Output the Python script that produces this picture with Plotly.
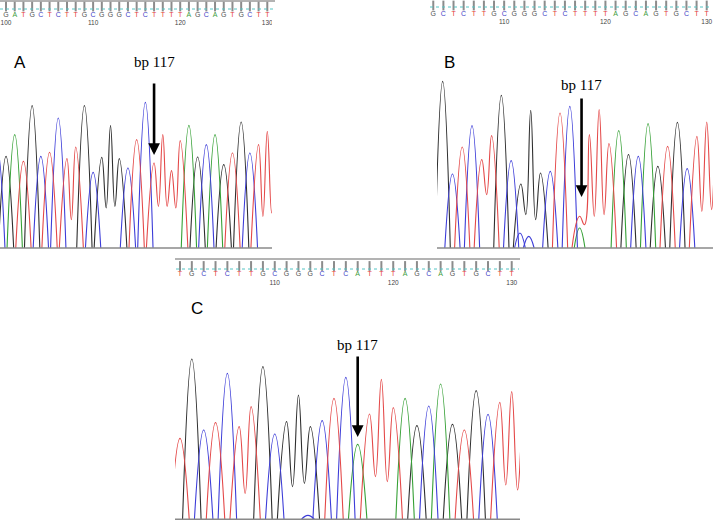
import plotly.graph_objects as go

W, H = 714, 520

# =========================
# Cores por base
# =========================
TRACE_COLORS = {"A": "#35a035", "C": "#3c3cd8", "G": "#2e2e2e", "T": "#e44848"}
CALL_COLORS = {"A": "#3c9c3c", "C": "#4040c8", "G": "#505050", "T": "#e6403c"}

# =========================
# Painel A
# =========================
A_calls = "GATGCTCTTGCGGGCTCTTTTAGCAGTGCTT"
A_first_call = 100
A_numbers = [100, 110, 120, 130]
A_peak_bases = "CGATGCTCTTGCGGGCTCTTTTAGCAGTGCTTT"
A_first_peak = 99
A_heights = [300, 275, 340, 260, 427, 275, 287, 390, 268, 303, 427, 227, 272, 367,
             268, 240, 325, 437, 255, 340, 232, 322, 368, 273, 310, 340, 250, 285,
             378, 285, 310, 350, 320]
A_valleys = {107: 85, 111: 120, 112: 125, 117: 125, 118: 125, 119: 120, 129: 95, 130: 105}
A_extra_pos, A_extra_bases, A_extra_h = [], "", []

# =========================
# Painel B
# =========================
B_calls = "GCTCTTGCGGGCTCTTTTAGCAGTGCTT"
B_first_call = 103
B_numbers = [110, 120, 130]
B_peak_bases = "GCTCTTGCGGGCTCTTTTAGCAGTGCTTT"
B_first_peak = 103
B_heights = [500, 222, 303, 367, 265, 337, 458, 262, 192, 413, 225, 230, 405, 425,
             95, 340, 415, 313, 352, 280, 275, 373, 245, 305, 377, 238, 335, 378, 330]
B_valleys = {107: 160, 111: 100, 112: 85, 117: 70, 118: 95, 119: 100, 129: 110, 130: 115}
B_extra_pos, B_extra_bases, B_extra_h = [110.9, 111.8, 117.0], "CCA", [45, 35, 60]

# =========================
# Painel C
# =========================
C_calls = "TGCTCTTGCGGGCTCATTTAGCAGTGCTT"
C_first_call = 102
C_numbers = [110, 120, 130]
C_peak_bases = "TGCTCTTGCGGGCTCATTTAGCAGTGCTTT"
C_first_peak = 102
C_heights = [243, 481, 268, 290, 438, 278, 338, 458, 256, 293, 373, 278, 296, 363,
             426, 225, 316, 420, 335, 363, 281, 340, 406, 285, 268, 386, 315, 351, 383, 300]
C_valleys = {107: 78, 111: 98, 112: 108, 118: 128, 119: 113, 129: 103, 130: 88}
C_extra_pos, C_extra_bases, C_extra_h = [112.8], "C", [12]

MUT_POS = 117


def peak_traces(bases, first, heights, valleys, ex_pos, ex_bases, ex_h, half, xa, ya):
    traces = []
    for b in "GACT":
        xs, ys = [], []
        i = 0
        while i < len(bases):
            if bases[i] != b:
                i += 1
                continue
            pos = first + i
            xs += [pos - half, pos]
            ys += [0, heights[i]]
            while pos in valleys and i + 1 < len(bases) and bases[i + 1] == b:
                xs += [pos + 0.5, pos + 1]
                ys += [valleys[pos], heights[i + 1]]
                i += 1
                pos += 1
            xs += [pos + half, None]
            ys += [0, None]
            i += 1
        for p, eb, h in zip(ex_pos, ex_bases, ex_h):
            if eb == b:
                xs += [p - 0.55, p, p + 0.55, None]
                ys += [0, h, 0, None]
        traces.append(go.Scatter(
            x=xs, y=ys, mode="lines", xaxis=xa, yaxis=ya,
            line=dict(color=TRACE_COLORS[b], width=1.1, shape="spline", smoothing=1.3),
            hoverinfo="skip", showlegend=False,
        ))
    return traces


def strip_traces(calls, first, numbers, xa, ya, y_tick, y_letter, y_num):
    pos = [first + i for i in range(len(calls))]
    ticks = go.Scatter(
        x=pos, y=[y_tick] * len(pos), mode="markers", xaxis=xa, yaxis=ya,
        marker=dict(symbol="line-ns", size=7, line=dict(color="#8c8c8c", width=2)),
        hoverinfo="skip", showlegend=False,
    )
    letters = go.Scatter(
        x=pos, y=[y_letter] * len(pos), mode="text", text=list(calls), xaxis=xa, yaxis=ya,
        textfont=dict(family="Liberation Sans", size=7, color=[CALL_COLORS[c] for c in calls]),
        hoverinfo="skip", showlegend=False,
    )
    nums = go.Scatter(
        x=numbers, y=[y_num] * len(numbers), mode="text", text=[str(n) for n in numbers],
        xaxis=xa, yaxis=ya, textfont=dict(family="Liberation Sans", size=6.5, color="#444444"),
        hoverinfo="skip", showlegend=False,
    )
    return [ticks, letters, nums]


fig = go.Figure()
for t in peak_traces(A_peak_bases, A_first_peak, A_heights, A_valleys,
                     A_extra_pos, A_extra_bases, A_extra_h, 0.88, "x", "y"):
    fig.add_trace(t)
for t in peak_traces(B_peak_bases, B_first_peak, B_heights, B_valleys,
                     B_extra_pos, B_extra_bases, B_extra_h, 0.78, "x2", "y2"):
    fig.add_trace(t)
for t in peak_traces(C_peak_bases, C_first_peak, C_heights, C_valleys,
                     C_extra_pos, C_extra_bases, C_extra_h, 0.78, "x3", "y3"):
    fig.add_trace(t)

for t in strip_traces(A_calls, A_first_call, A_numbers, "x", "y4", 6.5, 15, 23):
    fig.add_trace(t)
for t in strip_traces(B_calls, B_first_call, B_numbers, "x4", "y5", 5.5, 14, 22):
    fig.add_trace(t)
for t in strip_traces(C_calls, C_first_call, C_numbers, "x3", "y6", 9, 17, 26):
    fig.add_trace(t)


def px(v):
    return v / W


def py(v):
    return 1 - v / H


hidden = dict(showgrid=False, zeroline=False, showticklabels=False, showline=False, ticks="")

fig.update_layout(
    xaxis=dict(domain=[0, px(272)], range=[99.31, 130.54], anchor="y", **hidden),
    yaxis=dict(domain=[py(250), py(50)], range=[-6, 594], anchor="x", **hidden),
    xaxis2=dict(domain=[px(437), px(713)], range=[102.42, 130.64], anchor="y2", **hidden),
    yaxis2=dict(domain=[py(250), py(50)], range=[-6, 594], anchor="x2", **hidden),
    xaxis3=dict(domain=[px(175), px(520)], range=[101.58, 130.70], anchor="y3", **hidden),
    yaxis3=dict(domain=[0, py(320)], range=[-2, 598], anchor="x3", **hidden),
    xaxis4=dict(domain=[px(428), 1], range=[102.48, 130.72], anchor="y5", **hidden),
    yaxis4=dict(domain=[py(30), 1], range=[30, 0], anchor="x", **hidden),
    yaxis5=dict(domain=[py(30), 1], range=[30, 0], anchor="x4", **hidden),
    yaxis6=dict(domain=[py(287), py(257)], range=[30, 0], anchor="x3", **hidden),
    width=W, height=H,
    margin=dict(l=0, r=0, t=0, b=0),
    paper_bgcolor="white", plot_bgcolor="white",
    showlegend=False,
)

# linhas de base e faixas da sequência
for xr, yr in [("x domain", "y"), ("x2 domain", "y2"), ("x3 domain", "y3")]:
    fig.add_shape(type="line", xref=xr, yref=yr, x0=0, x1=1, y0=0, y1=0,
                  line=dict(color="#8a8a8a", width=1.5))
fig.add_shape(type="line", xref="paper", yref="y4", x0=0, x1=px(275), y0=1, y1=1,
              line=dict(color="#9a9a9a", width=1.5))
fig.add_shape(type="line", xref="paper", yref="y6", x0=px(175), x1=px(520), y0=2, y1=2,
              line=dict(color="#9a9a9a", width=1.5))
for x0, x1, yr, yv in [(0, 273, "y4", 9), (430, 712, "y5", 7), (176, 519, "y6", 12)]:
    fig.add_shape(type="line", xref="paper", yref=yr, x0=px(x0), x1=px(x1), y0=yv, y1=yv,
                  line=dict(color="#55c4c4", width=1, dash="dot"))

# rótulos dos painéis
for lab, x, y in [("A", 20, 62), ("B", 449, 62), ("C", 197, 308)]:
    fig.add_annotation(text=lab, xref="paper", yref="paper", x=px(x), y=py(y),
                       xanchor="center", yanchor="middle", showarrow=False,
                       font=dict(family="Liberation Sans", size=17, color="black"))

# setas bp 117
for xa, ya, x_off, head, tail_px, text_px in [
    ("x", "y", 0.0, 279, -73, 62),
    ("x2", "y2", 0.2, 153, -100, 85),
    ("x3", "y3", 0.0, 247, -82, 345),
]:
    fig.add_annotation(xref=xa, yref=ya, x=MUT_POS + x_off, y=head, ax=0, ay=tail_px,
                       text="", showarrow=True, arrowhead=2, arrowsize=0.9,
                       arrowwidth=2.6, arrowcolor="black", standoff=0)
    fig.add_annotation(xref=xa, yref="paper", x=MUT_POS + x_off, y=py(text_px),
                       xanchor="center", yanchor="middle",
                       text="bp 117", showarrow=False,
                       font=dict(family="Liberation Serif", size=15, color="black"))

# a página abre com margem padrão do body; zera para alinhar com 714x520
fig.write_html("out.html", config={"displayModeBar": False},
               post_script="document.body.style.margin='0';")
